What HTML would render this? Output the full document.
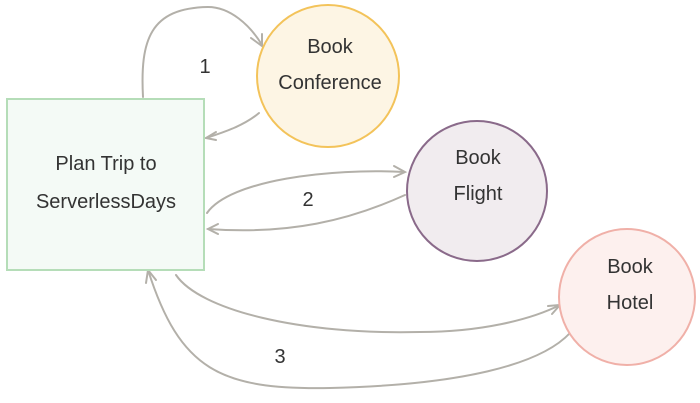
<!DOCTYPE html>
<html><head><meta charset="utf-8"><style>
html,body{margin:0;padding:0;background:#fff;width:700px;height:403px;overflow:hidden}
svg text{font-family:"Liberation Sans",sans-serif;font-size:20px;fill:#333;text-anchor:middle}
</style></head><body>
<svg width="700" height="403" viewBox="0 0 700 403" xmlns="http://www.w3.org/2000/svg">
<g fill="none" stroke="#b3b0a9" stroke-width="2" stroke-linecap="round">
<path d="M143 97 C140 40 150 8 208 7 C230 7 250 25 262 45"/>
<path d="M251 38 L262 46 L262 34"/>
<path d="M259 113 C245 125 225 132 206 138"/>
<path d="M216 132 L206 138 L216 140"/>
<path d="M207 213 C230 180 330 168 404 172"/>
<path d="M394 166 L405 172 L394 177"/>
<path d="M405 195 C350 220 290 235 208 229"/>
<path d="M218 224 L208 229 L218 234"/>
<path d="M176 275 C200 310 300 335 420 332 C480 332 530 320 560 305"/>
<path d="M548 306 L560 305 L552 314"/>
<path d="M570 333 C540 365 460 385 330 388 C220 390 180 370 148 270"/>
<path d="M146 283 L148 270 L156 280"/>
</g>
<rect x="7" y="99" width="197" height="171" fill="#f4faf6" stroke="#b5ddb8" stroke-width="2"/>
<circle cx="328" cy="76" r="71" fill="#fdf5e4" stroke="#f3c35a" stroke-width="2"/>
<circle cx="477" cy="191" r="70" fill="#f1ecef" stroke="#8a6a8a" stroke-width="2"/>
<circle cx="627" cy="297" r="68" fill="#fdf0ee" stroke="#f0b0a8" stroke-width="2"/>
<text x="106" y="170">Plan Trip to</text>
<text x="106" y="208">ServerlessDays</text>
<text x="330" y="53">Book</text>
<text x="330" y="89">Conference</text>
<text x="478" y="164">Book</text>
<text x="478" y="200">Flight</text>
<text x="630" y="273">Book</text>
<text x="630" y="309">Hotel</text>
<text x="205" y="73">1</text>
<text x="308" y="206">2</text>
<text x="280" y="363">3</text>
</svg>
</body></html>
